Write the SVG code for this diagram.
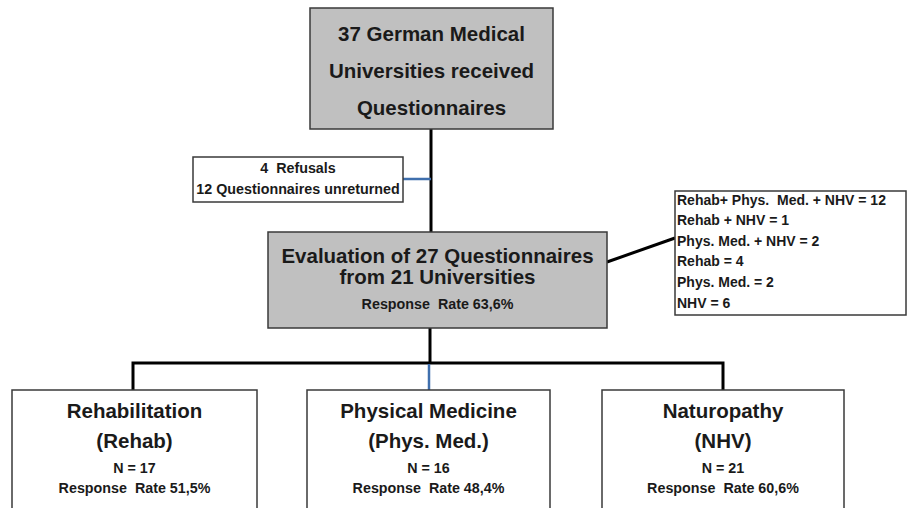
<svg xmlns="http://www.w3.org/2000/svg" width="908" height="508" viewBox="0 0 908 508">
<style>
text{font-family:"Liberation Sans",Arial,sans-serif;font-weight:bold;fill:#1a1a1a}
.t{font-size:20.5px;text-anchor:middle}
.s{font-size:14.3px;text-anchor:middle}
.l{font-size:14px}
.g{fill:#c0c0c0;stroke:#3a3a3a;stroke-width:1.5}
.w{fill:#ffffff;stroke:#3a3a3a;stroke-width:1.5}
.k{stroke:#000;stroke-width:3;fill:none}
.b{stroke:#3f6fad;stroke-width:2.5;fill:none}
</style>
<rect width="908" height="508" fill="#fff"/>
<g id="connectors">
<line class="k" x1="431" y1="129" x2="431" y2="232"/>
<line class="b" x1="403" y1="179" x2="431" y2="179"/>
<line class="k" x1="607" y1="262" x2="675" y2="238"/>
<polyline class="k" points="430,328 430,363"/>
<polyline class="k" points="133,390 133,363 723,363 723,390"/>
<line class="b" x1="429" y1="364" x2="429" y2="390"/>
</g>
<g id="top">
<rect class="g" x="310" y="8" width="243" height="121"/>
<text class="t" x="431.5" y="41">37 German Medical</text>
<text class="t" x="431.5" y="78">Universities received</text>
<text class="t" x="431.5" y="115">Questionnaires</text>
</g>
<g id="refusals">
<rect class="w" x="193" y="157" width="210" height="45"/>
<text class="s" x="298" y="173" xml:space="preserve">4  Refusals</text>
<text class="s" x="298" y="194">12 Questionnaires unreturned</text>
</g>
<g id="evaluation">
<rect class="g" x="268" y="232" width="339" height="96"/>
<text class="t" x="437.5" y="263">Evaluation of 27 Questionnaires</text>
<text class="t" x="437.5" y="284">from 21 Universities</text>
<text class="s" x="437.5" y="309" xml:space="preserve">Response  Rate 63,6%</text>
</g>
<g id="combinations">
<rect class="w" x="675" y="191" width="231" height="124"/>
<text class="l" x="677" y="205" xml:space="preserve">Rehab+ Phys.  Med. + NHV = 12</text>
<text class="l" x="677" y="225">Rehab + NHV = 1</text>
<text class="l" x="677" y="246">Phys. Med. + NHV = 2</text>
<text class="l" x="677" y="266">Rehab = 4</text>
<text class="l" x="677" y="287">Phys. Med. = 2</text>
<text class="l" x="677" y="308">NHV = 6</text>
</g>
<g id="rehab">
<rect class="w" x="12" y="390" width="245" height="130"/>
<text class="t" x="134.5" y="418">Rehabilitation</text>
<text class="t" x="134.5" y="448">(Rehab)</text>
<text class="s" x="134.5" y="473">N = 17</text>
<text class="s" x="134.5" y="493" xml:space="preserve">Response  Rate 51,5%</text>
</g>
<g id="physmed">
<rect class="w" x="307" y="390" width="243" height="130"/>
<text class="t" x="428.5" y="418">Physical Medicine</text>
<text class="t" x="428.5" y="448">(Phys. Med.)</text>
<text class="s" x="428.5" y="473">N = 16</text>
<text class="s" x="428.5" y="493" xml:space="preserve">Response  Rate 48,4%</text>
</g>
<g id="nhv">
<rect class="w" x="602" y="390" width="242" height="130"/>
<text class="t" x="723" y="418">Naturopathy</text>
<text class="t" x="723" y="448">(NHV)</text>
<text class="s" x="723" y="473">N = 21</text>
<text class="s" x="723" y="493" xml:space="preserve">Response  Rate 60,6%</text>
</g>
</svg>
